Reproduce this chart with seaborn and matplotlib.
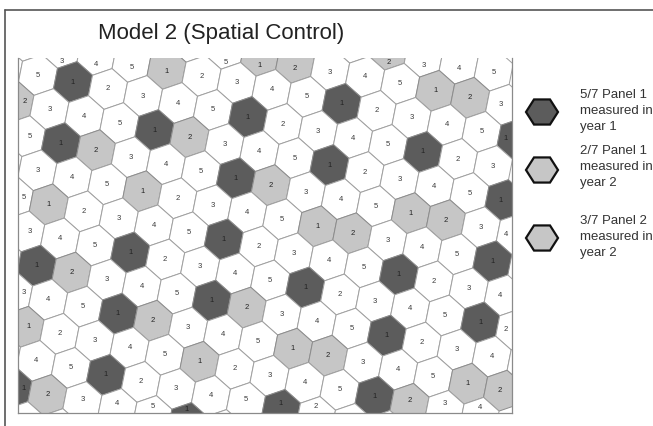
import numpy as np
import matplotlib
matplotlib.use("Agg")
import matplotlib.pyplot as plt
from matplotlib.patches import Polygon
import seaborn as sns

sns.set_theme(style="white")
plt.rcParams['font.family'] = ['Liberation Sans', 'DejaVu Sans']

TITLE = "Model 2 (Spatial Control)"

# rows of the tilted hexagonal lattice: row index j, first column index i
ROW_J = [-3, -2, -1, 0, 1, 2, 3, 4, 5, 6, 7, 8, 9, 10, 11]
ROW_I0 = [6, 2, -2, -2, -1, 0, 0, 1, 2, 2, 3, 4, 4, 5, 6]
ROW_LABELS = [
    "12345",
    "4512345123",
    "234512345123451",
    "451234512345123",
    "234512345123451",
    "512345123451234",
    "234512345123451",
    "512345123451234",
    "345123451234512",
    "5123451234512345",
    "345123451234512",
    "12345123451234",
    "345123451234",
    "1234512",
    "45",
]
# D = panel 1 measured in year 1, L = measured in year 2, W = not sampled
ROW_SHADES = [
    "WLWWW",
    "WWLLWWWLLW",
    "WWWWLWWWWDWWWWD",
    "WWDWWWWDWWWWDWW",
    "LWWWDLWWWDWWWWD",
    "WDLWWWDLWWWLLWW",
    "WWWWLWWWWLLWWWD",
    "WLWWWWDWWWWDWWW",
    "WWWDWWWWDWWWWDW",
    "WDLWWWDLWWWDWWWW",
    "WWWDLWWWLLWWWLL",
    "LWWWWLWWWWDLWW",
    "WWWDWWWWDWWW",
    "DLWWWDW",
    "WW",
]
LEGEND_SHADES = ["D", "L", "L"]
LEGEND_TEXT = [
    ["5/7 Panel 1", "measured in", "year 1"],
    ["2/7 Panel 1", "measured in", "year 2"],
    ["3/7 Panel 2", "measured in", "year 2"],
]

# ---- styling / geometry (pixel units) ----
W, H = 653, 426
FILL = {"D": "#5c5c5c", "L": "#c6c6c6", "W": "#ffffff"}
EDGE = "#a0a0a0"
ORIGIN = np.array([73.0, 82.0])
VA = np.array([35.0, 7.0])
VC = np.array([-23.56, 27.1])
PX0, PX1, PY0, PY1 = 18, 512, 58, 413

VB = VA + VC
nbrs = [VA, VB, VC, -VA, -VB, -VC]
HEX = np.array([(nbrs[k] + nbrs[(k + 1) % 6]) / 3.0 for k in range(6)])


def clip_poly(pts, x0, x1, y0, y1):
    def clip(pts, inside, inter):
        out = []
        for k in range(len(pts)):
            p, q = pts[k - 1], pts[k]
            ip, iq = inside(p), inside(q)
            if iq:
                if not ip:
                    out.append(inter(p, q))
                out.append(q)
            elif ip:
                out.append(inter(p, q))
        return out

    def ix(xc):
        return lambda p, q: (xc, p[1] + (q[1] - p[1]) * (xc - p[0]) / (q[0] - p[0]))

    def iy(yc):
        return lambda p, q: (p[0] + (q[0] - p[0]) * (yc - p[1]) / (q[1] - p[1]), yc)

    pts = [tuple(p) for p in pts]
    for inside, inter in [(lambda p: p[0] >= x0, ix(x0)), (lambda p: p[0] <= x1, ix(x1)),
                          (lambda p: p[1] >= y0, iy(y0)), (lambda p: p[1] <= y1, iy(y1))]:
        if not pts:
            break
        pts = clip(pts, inside, inter)
    return pts


def centroid(pts):
    p = np.array(pts)
    x, y = p[:, 0], p[:, 1]
    x2, y2 = np.roll(x, -1), np.roll(y, -1)
    cr = x * y2 - x2 * y
    A = cr.sum() / 2.0
    if abs(A) < 1e-9:
        return None, 0
    return (np.array([((x + x2) * cr).sum(), ((y + y2) * cr).sum()]) / (6 * A)), abs(A)


fig = plt.figure(figsize=(W / 100, H / 100), dpi=100)
fig.patch.set_facecolor("white")

ax = fig.add_axes([PX0 / W, 1 - PY1 / H, (PX1 - PX0) / W, (PY1 - PY0) / H])
ax.set_xlim(PX0, PX1)
ax.set_ylim(PY1, PY0)
ax.set_xticks([])
ax.set_yticks([])
ax.set_facecolor("white")
for s in ax.spines.values():
    s.set_color("#8a8a8a")
    s.set_linewidth(0.9)
ax.spines["top"].set_visible(False)

for j, i0, labs, shades in zip(ROW_J, ROW_I0, ROW_LABELS, ROW_SHADES):
    for k, (lab, sh) in enumerate(zip(labs, shades)):
        i = i0 + k
        c = ORIGIN + i * VA + j * VC
        verts = c + HEX
        ax.add_patch(Polygon(verts, closed=True, facecolor=FILL[sh],
                             edgecolor=EDGE if sh == "W" else "#8c8c8c",
                             linewidth=0.7, zorder=1))
        vis = clip_poly(verts, PX0, PX1, PY0, PY1)
        if len(vis) >= 3:
            cen, area = centroid(vis)
            if cen is not None and area > 180:
                ax.text(cen[0], cen[1], lab, ha="center", va="center",
                        fontsize=5.5, color="#222222" if sh != "W" else "#3a3a3a",
                        zorder=3, clip_on=True)

# overlay in pixel coordinates for title, legend and frame
ov = fig.add_axes([0, 0, 1, 1])
ov.set_xlim(0, W)
ov.set_ylim(H, 0)
ov.axis("off")
ov.patch.set_alpha(0)

ov.plot([5, 5], [10, H + 5], color="#555555", lw=1.2, clip_on=False)
ov.plot([5, W + 5], [10, 10], color="#555555", lw=1.2, clip_on=False)

ov.text(221, 33, TITLE, ha="center", va="center", fontsize=16, color="#222222")

LEG_Y = [112, 170, 238]
LEG_TXT_Y = [95, 151, 221]
ang = np.deg2rad(np.arange(6) * 60)
for y, ty, sh, lines in zip(LEG_Y, LEG_TXT_Y, LEGEND_SHADES, LEGEND_TEXT):
    hx = 542 + 16 * np.cos(ang)
    hy = y + 14.5 * np.sin(ang)
    ov.add_patch(Polygon(np.c_[hx, hy], closed=True, facecolor=FILL[sh],
                         edgecolor="#111111", linewidth=1.6))
    for n, t in enumerate(lines):
        ov.text(580, ty + n * 16, t, ha="left", va="center",
                fontsize=9.5, color="#333333")

fig.savefig("out.png", dpi=100, facecolor="white")
